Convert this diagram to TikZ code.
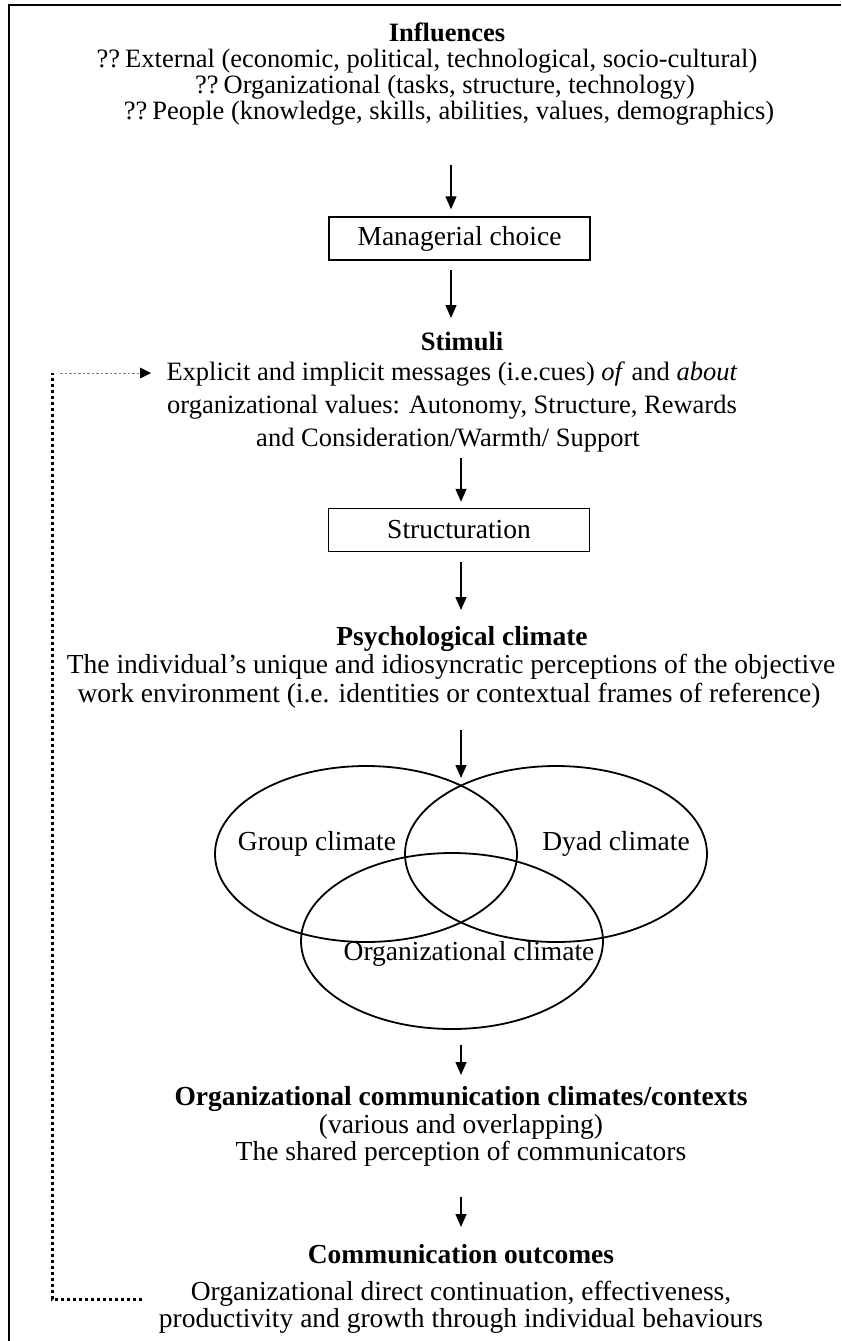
\documentclass[tikz,border=0pt]{standalone}
\usepackage{fontspec}
\setmainfont{Liberation Serif}
\usetikzlibrary{arrows.meta,shapes.geometric}
\begin{document}
\begin{tikzpicture}[x=1pt,y=-1pt,
  txt/.style={inner sep=0pt, anchor=base, font=\fontsize{27.5}{31}\selectfont},
  hd/.style={inner sep=0pt, anchor=base, font=\fontsize{27.5}{31}\selectfont\bfseries},
  small/.style={font=\fontsize{26.5}{30}\selectfont},
  smallhd/.style={font=\fontsize{26.5}{30}\selectfont\bfseries},
  boxnode/.style={draw, line width=1.5pt, minimum width=261pt, minimum height=43pt,
    inner sep=0pt, font=\fontsize{27.5}{31}\selectfont},
  flow/.style={line width=1.4pt, -{Triangle[width=11pt,length=13pt]}},
  venn/.style={draw, ellipse, line width=1.8pt, minimum width=302pt, minimum height=176pt, inner sep=0pt},
  fbbold/.style={line width=3pt, dash pattern=on 3.2pt off 2.8pt},
  fbthin/.style={line width=0.9pt, gray, dash pattern=on 2.5pt off 2pt},
]
\useasboundingbox (0,0) rectangle (841,1341);

% frame
\draw[line width=1.6pt] (9,1341) -- (9,5) -- (841,5);

% influences
\node[hd,smallhd] (inf0) at (447,41)  {Influences};
\node[txt,small]  (inf1) at (427,67)  {??\hspace{5pt}External (economic, political, technological, socio-cultural)};
\node[txt,small]  (inf2) at (445,93)  {??\hspace{5pt}Organizational (tasks, structure, technology)};
\node[txt,small]  (inf3) at (449,119) {??\hspace{5pt}People (knowledge, skills, abilities, values, demographics)};

\coordinate (a1s) at (451,165);
\node[boxnode] (mc) at (459.5,238.5) {Managerial choice};
\draw[flow] (a1s) -- (a1s |- mc.north) [shorten >=7pt];

% stimuli
\coordinate (a2s) at (451,270);
\coordinate (a2e) at (451,318);
\draw[flow] (a2s) -- (a2e);
\node[hd,smallhd] (st0) at (462,350) {Stimuli};
\node[txt,small]  (st1) at (452,380) {Explicit and implicit messages (i.e.cues) \textit{of} and \textit{about}};
\node[txt,small]  (st2) at (452,413) {organizational values: Autonomy, Structure, Rewards};
\node[txt,small]  (st3) at (448,446) {and Consideration/Warmth/ Support};

\coordinate (a3s) at (461,458);
\node[boxnode] (sc) at (459,530) {Structuration};
\draw[flow] (a3s) -- (a3s |- sc.north) [shorten >=6pt];

% psychological climate
\coordinate (a4s) at (461,562);
\coordinate (a4e) at (461,610);
\draw[flow] (a4s) -- (a4e);
\node[hd]  (pc0) at (462,645) {Psychological climate};
\node[txt] (pc1) at (451,673) {The individual’s unique and idiosyncratic perceptions of the objective};
\node[txt] (pc2) at (449,702) {work environment (i.e. identities or contextual frames of reference)};

% overlapping climates
\node[venn] (grp) at (366,854) {};
\node[venn] (dyd) at (556,854) {};
\node[venn] (org) at (452,941) {};
\coordinate (a5s) at (461,730);
\coordinate (a5e) at (461,778);
\draw[flow] (a5s) -- (a5e);
\node[txt] (gl) at (317,850) {Group climate};
\node[txt] (dl) at (616,850) {Dyad climate};
\node[txt] (ol) at (469,960) {Organizational climate};

% communication climates
\coordinate (a6s) at (461,1045);
\coordinate (a6e) at (461,1075);
\draw[flow] (a6s) -- (a6e);
\node[hd]  (cc0) at (461,1105) {Organizational communication climates/contexts};
\node[txt] (cc1) at (461,1133) {(various and overlapping)};
\node[txt] (cc2) at (461,1160) {The shared perception of communicators};

% outcomes
\coordinate (a7s) at (461,1197);
\coordinate (a7e) at (461,1227);
\draw[flow] (a7s) -- (a7e);
\node[hd]  (oc0) at (461,1263) {Communication outcomes};
\node[txt] (oc1) at (461,1300) {Organizational direct continuation, effectiveness,};
\node[txt] (oc2) at (461,1327) {productivity and growth through individual behaviours};

% feedback loop
\coordinate (fb0) at (142,1299);
\coordinate (fb1) at (52,1299);
\coordinate (fb2) at (52,373);
\coordinate (fb3) at (60,373);
\coordinate (fb4) at (140,373);
\draw[fbbold] (fb0) -- (fb1) -- (fb2);
\draw[fbthin] (fb3) -- (fb4);
\fill (fb4) ++(0,-5.5) -- ++(11,5.5) -- ++(-11,5.5) -- cycle;
\end{tikzpicture}
\end{document}
